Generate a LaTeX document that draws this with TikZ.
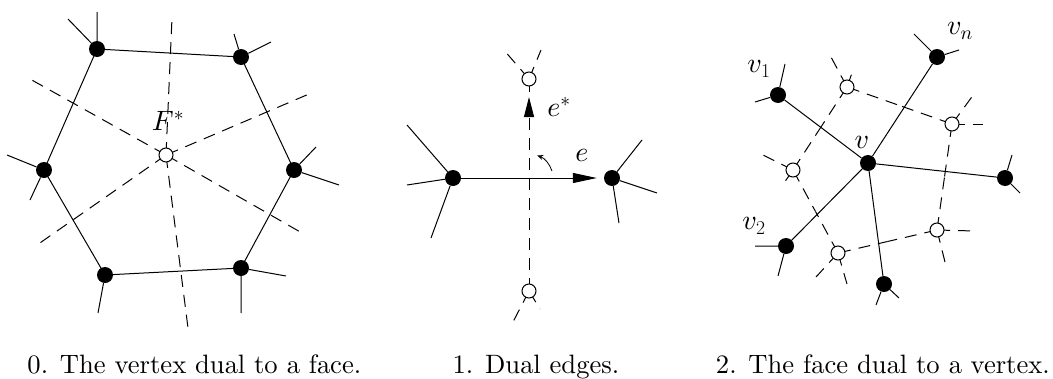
\documentclass[tikz,border=0pt]{standalone}
\usepackage{fix-cm}
\DeclareFontShape{OML}{cmm}{m}{it}{<->cmmi10}{}
\DeclareFontShape{OMS}{cmsy}{m}{n}{<->cmsy10}{}
\font\capfont=cmr10 at 26.6pt
\usetikzlibrary{arrows.meta,calc}
\pgfdeclarelayer{bg}
\pgfsetlayers{bg,main}
\tikzset{
  bv/.style={circle,fill=black,minimum size=16pt,inner sep=0pt},
  dv/.style={circle,draw,fill=white,minimum size=14pt,inner sep=0pt,line width=1pt},
  solidedge/.style={line width=1pt},
  dualedge/.style={line width=1pt,dash pattern=on 12pt off 8pt,dash phase=19pt},
  lab/.style={font=\fontsize{28}{32}\selectfont,inner sep=0pt},
  captext/.style={font=\capfont,inner sep=0pt,anchor=base},
}
\begin{document}
\begin{tikzpicture}[x=1pt,y=-1pt]
\useasboundingbox (0,0) rectangle (1053,378);
% ---------- panel 0 ----------
\node[bv] (A) at (97,49) {};
\node[bv] (B) at (241,57) {};
\node[bv] (C) at (294,170) {};
\node[bv] (D) at (241,268) {};
\node[bv] (E) at (105,275) {};
\node[bv] (F) at (44,170) {};
\coordinate (A1) at (97,12); \coordinate (A2) at (68,19);
\coordinate (B1) at (234,34); \coordinate (B2) at (271,42);
\coordinate (C1) at (316,147); \coordinate (C2) at (339,185);
\coordinate (D1) at (286,276); \coordinate (D2) at (241,313);
\coordinate (E1) at (98,313);
\coordinate (F1) at (7,155); \coordinate (F2) at (30,200);
\node[dv] (Fs) at (166,155) {};
\coordinate (s1) at (172,18); \coordinate (s2) at (188,328);
\coordinate (s3) at (30,79); \coordinate (s4) at (309,94);
\coordinate (s5) at (37,245); \coordinate (s6) at (302,233);
\node[lab] (Flab) at (168,121) {$F^*$};
% ---------- panel 1 ----------
\node[bv] (L) at (453,178) {};
\node[bv] (R) at (612,178) {};
\coordinate (L1) at (407,125); \coordinate (L2) at (407,185); \coordinate (L3) at (431,238);
\coordinate (R1) at (642,140); \coordinate (R2) at (657,193); \coordinate (R3) at (619,223);
\node[dv] (T) at (529,79) {};
\node[dv] (Bd) at (529,291) {};
\coordinate (T1) at (503,49); \coordinate (T2) at (541,50);
\coordinate (Bd1) at (513,322); \coordinate (Bd2) at (540,309);
\coordinate (Ttip) at (529,97);
\coordinate (Tlow) at (529,92);
\coordinate (X) at (529,178);
\node[lab] (eslab) at (559,107) {$e^*$};
\node[lab] (elab) at (582,155) {$e$};
% ---------- panel 2 ----------
\node[bv] (V) at (868,163) {};
\node[bv] (Vn) at (937,57) {};
\node[bv] (V1) at (778,95) {};
\node[bv] (V2) at (786,246) {};
\node[bv] (Vb) at (884,284) {};
\node[bv] (Vr) at (1005,178) {};
\coordinate (Vn1) at (914,34); \coordinate (Vn2) at (959,50);
\coordinate (V11) at (785,64); \coordinate (V12) at (755,102);
\coordinate (V21) at (755,246); \coordinate (V22) at (778,276);
\coordinate (Vb1) at (876,305); \coordinate (Vb2) at (899,298);
\coordinate (Vr1) at (1012,155); \coordinate (Vr2) at (1020,193);
\node[dv] (c1) at (847,87) {};
\node[dv] (c2) at (952,124) {};
\node[dv] (c3) at (937,230) {};
\node[dv] (c4) at (838,253) {};
\node[dv] (c5) at (793,170) {};
\coordinate (c1a) at (831,57); \coordinate (c1b) at (852,73);
\coordinate (c2a) at (974,94); \coordinate (c2b) at (983,124);
\coordinate (c3a) at (975,231); \coordinate (c3b) at (945,262);
\coordinate (c4a) at (816,277); \coordinate (c4b) at (847,284);
\coordinate (c5a) at (763,155); \coordinate (c5b) at (784,183);
\node[lab] (vnlab) at (960,31) {$v_n$};
\node[lab] (v1lab) at (759,69) {$v_1$};
\node[lab] (v2lab) at (754,226) {$v_2$};
\node[lab] (vlab) at (862,142) {$v$};
% ---------- captions ----------
\node[captext] (cap0) at (194.5,373) {0. The vertex dual to a face.};
\node[captext] (cap1) at (536,373) {1. Dual edges.};
\node[captext] (cap2) at (883,373) {2. The face dual to a vertex.};
% ---------- connectors ----------
\begin{pgfonlayer}{bg}
  % panel 0
  \draw[solidedge] (A.center) -- (B.center) -- (C.center) -- (D.center) -- (E.center) -- (F.center) -- cycle;
  \draw[solidedge] (A) -- (A1) (A) -- (A2) (B) -- (B1) (B) -- (B2)
              (C) -- (C1) (C) -- (C2) (D) -- (D1) (D) -- (D2)
              (E) -- (E1) (F) -- (F1) (F) -- (F2);
  \foreach \s in {s1,s2,s3,s4,s5,s6} \draw[dualedge] (Fs.center) -- (\s);
  % panel 1
  \draw[solidedge,-{Triangle[length=24pt,width=10pt]},shorten >=7pt] (L) -- (R);
  \draw[solidedge] (L) -- (L1) (L) -- (L2) (L) -- (L3) (R) -- (R1) (R) -- (R2) (R) -- (R3);
  \draw[dualedge,-{Triangle[length=20pt,width=10pt]}] (Bd.center) -- (Ttip);
  \draw[dualedge] (T.center) -- (Tlow);
  \foreach \s in {T1,T2} \draw[dualedge] (T.center) -- (\s);
  \foreach \s in {Bd1,Bd2} \draw[dualedge] (Bd.center) -- (\s);
  \draw[line width=0.8pt,-{Stealth[length=6pt,width=5pt]}] ([shift={(-17:24)}]X) arc[start angle=-17,end angle=-70,radius=24];
  % panel 2
  \draw[solidedge] (V) -- (Vn) (V) -- (V1) (V) -- (V2) (V) -- (Vb) (V) -- (Vr);
  \draw[solidedge] (Vn) -- (Vn1) (Vn) -- (Vn2) (V1) -- (V11) (V1) -- (V12)
              (V2) -- (V21) (V2) -- (V22) (Vb) -- (Vb1) (Vb) -- (Vb2)
              (Vr) -- (Vr1) (Vr) -- (Vr2);
  \foreach \a/\b in {c1/c2,c2/c3,c3/c4,c4/c5,c5/c1} {
    \draw[dualedge] (\a.center) -- ($(\a.center)!0.5!(\b.center)$);
    \draw[dualedge] (\b.center) -- ($(\a.center)!0.5!(\b.center)$);
  }
  \foreach \c in {c1,c2,c3,c4,c5} {
    \draw[dualedge] (\c.center) -- (\c a);
    \draw[dualedge] (\c.center) -- (\c b);
  }
\end{pgfonlayer}
\end{tikzpicture}
\end{document}
